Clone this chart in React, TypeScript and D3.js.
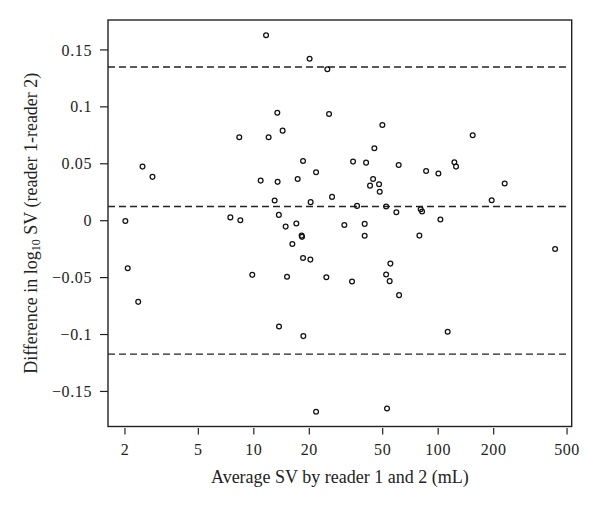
import * as d3 from "d3";

// average SV (mL) of reader 1 and 2
const avgSV = [
  11.65, 20.07, 25.05, 13.41, 25.59, 8.34, 12.03, 14.33, 2.49, 2.82,
  10.89, 13.46, 17.29, 18.49, 21.76, 26.57, 12.97, 20.33, 34.53, 13.67,
  2.01, 7.46, 8.45, 49.8, 45.07, 40.63, 61.07, 86.0, 100.3, 122.4,
  125.0, 153.9, 229.5, 44.36, 42.7, 47.8, 48.2, 195.1, 36.3, 52.2,
  59.3, 80.4, 81.8, 102.8, 14.88, 17.01, 18.17, 18.26, 16.18, 18.49,
  20.26, 30.97, 2.07, 2.36, 9.81, 15.14, 24.74, 34.1, 13.7, 18.56,
  21.76, 39.93, 39.93, 79.07, 430.9, 55.04, 52.2, 54.56, 61.36, 112.6,
  52.8,
];

// difference in log10 SV (reader 1 - reader 2)
const diffLog = [
  0.1629, 0.1423, 0.133, 0.0949, 0.0938, 0.0733, 0.0733, 0.0791, 0.0475, 0.0385,
  0.0352, 0.0341, 0.0367, 0.0525, 0.0426, 0.0209, 0.0178, 0.0163, 0.0519, 0.0051,
  -0.0002, 0.0029, 0.0004, 0.0841, 0.0637, 0.051, 0.049, 0.0437, 0.0414, 0.0514,
  0.0475, 0.0751, 0.0326, 0.0367, 0.0308, 0.032, 0.0255, 0.018, 0.013, 0.0124,
  0.0075, 0.0101, 0.008, 0.0011, -0.0052, -0.0025, -0.0131, -0.0142, -0.0204, -0.0327,
  -0.0342, -0.0037, -0.0417, -0.0713, -0.0476, -0.0493, -0.0496, -0.0535, -0.093, -0.1014,
  -0.1679, -0.0028, -0.0133, -0.0131, -0.0248, -0.0377, -0.0473, -0.0531, -0.0654, -0.0976,
  -0.165,
];

// mean difference and limits of agreement
const refLines = [0.135, 0.0124, -0.1172];

const xTicks = [2, 5, 10, 20, 50, 100, 200, 500];
const yTicks = [0.15, 0.1, 0.05, 0, -0.05, -0.1, -0.15];
const yTickLabels = ["0.15", "0.1", "0.05", "0", "\u22120.05", "\u22120.1", "\u22120.15"];

const W = 600;
const H = 508;
const left = 108;
const right = 571.7;
const top = 20;
const bottom = 426.5;

export default function App() {
  const x = d3.scaleLog().domain([1.618, 530]).range([left, right]);
  const y = d3.scaleLinear().domain([-0.1808, 0.1763]).range([bottom, top]);
  const font = "'Liberation Serif', 'Times New Roman', serif";
  const midX = (left + right) / 2;
  const midY = (top + bottom) / 2;

  return (
    <svg width={W} height={H} style={{ position: "absolute", left: 0, top: 0, background: "#fff" }}>
      <rect x={left} y={top} width={right - left} height={bottom - top} fill="none" stroke="#222" strokeWidth={1.4} />

      {refLines.map((v, i) => (
        <line key={i} x1={left} x2={right - 3} y1={y(v)} y2={y(v)} stroke="#222" strokeWidth={1.4} strokeDasharray="7,4" />
      ))}

      {avgSV.map((v, i) => (
        <circle key={i} cx={x(v)} cy={y(diffLog[i])} r={2.4} fill="none" stroke="#111" strokeWidth={1.25} />
      ))}

      {yTicks.map((t, i) => (
        <g key={i}>
          <line x1={left - 8} x2={left} y1={y(t)} y2={y(t)} stroke="#222" strokeWidth={1.2} />
          <text x={left - 16} y={y(t)} dy="0.35em" textAnchor="end" fontFamily={font} fontSize={16} letterSpacing={0.6} fill="#222">
            {yTickLabels[i]}
          </text>
        </g>
      ))}

      {xTicks.map((t) => (
        <g key={t}>
          <line x1={x(t)} x2={x(t)} y1={bottom + 1.5} y2={bottom + 8} stroke="#222" strokeWidth={1.2} />
          <text x={x(t)} y={455} textAnchor="middle" fontFamily={font} fontSize={16} letterSpacing={0.6} fill="#222">
            {t}
          </text>
        </g>
      ))}

      <text x={midX} y={483} textAnchor="middle" fontFamily={font} fontSize={18} fill="#222">
        Average SV by reader 1 and 2 (mL)
      </text>

      <text transform={`translate(37,${midY}) rotate(-90)`} textAnchor="middle" fontFamily={font} fontSize={18} fill="#222">
        Difference in log
        <tspan fontSize={12} dy={3}>10</tspan>
        <tspan dy={-3}> SV (reader 1-reader 2)</tspan>
      </text>
    </svg>
  );
}
